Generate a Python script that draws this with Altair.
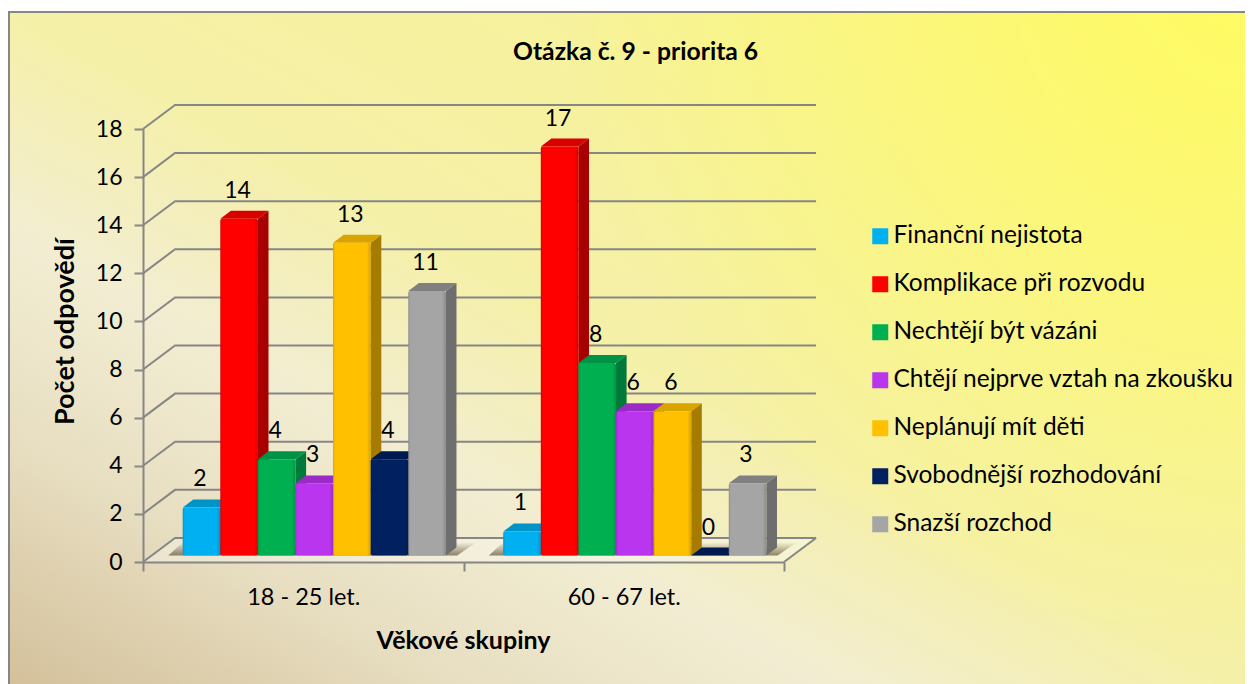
import altair as alt
import pandas as pd

# ---- values ----
groups = ["18 - 25 let.", "60 - 67 let."]
series = ["Finanční nejistota", "Komplikace při rozvodu", "Nechtějí být vázáni",
          "Chtějí nejprve vztah na zkoušku", "\u00a0Neplánují mít děti",
          "\u00a0Svobodnější rozhodování", "\u00a0Snazší rozchod"]
group_1 = [2, 14, 4, 3, 13, 4, 11]
group_2 = [1, 17, 8, 6, 6, 0, 3]
front_colors = ["#00B0F0", "#FF0000", "#00B050", "#B936EE", "#FFC000", "#002060", "#A5A5A5"]
side_colors = ["#0080B0", "#A80000", "#007A38", "#7F25A6", "#A67C00", "#001540", "#6E6E6E"]
top_colors = ["#0093C8", "#D80000", "#009345", "#9A2BC7", "#D9A300", "#001A50", "#808080"]
ticks = list(range(0, 20, 2))

FONT = "Lato"
CW, CH = 1237, 676           # whole canvas
PL, PT = 135, 121            # plot-area origin inside the canvas
W, H = 641, 433              # plot area
DEPTH_X, DEPTH_Y = 0.1, 1.0  # back wall offset (category units, value units)
BAR_START, BAR_W = 0.124, 0.1173
BASE = 0.27
SIDE_X, SIDE_Y = 0.033, 0.33

xs = alt.Scale(domain=[0, 2], nice=False, zero=False)
ys = alt.Scale(domain=[0, 18], nice=False, zero=False)


def X(f, **k):
    return alt.X(f, type="quantitative", scale=xs, **k)


def Y(f, **k):
    return alt.Y(f, type="quantitative", scale=ys, **k)


bars = []
for g, vals in enumerate([group_1, group_2]):
    for s, v in enumerate(vals):
        left = g + BAR_START + s * BAR_W
        bars.append(dict(id=f"{g}-{s}", series=series[s], value=v, left=left, right=left + BAR_W,
                         mid=left + BAR_W / 2 - 0.005, top=v + BASE, base=BASE,
                         side=side_colors[s], cap=top_colors[s]))
bars = pd.DataFrame(bars)

side_rows, top_rows = [], []
for r in bars.itertuples():
    side_rows += [dict(id=r.id, c=r.side, x=r.right, y=r.top, y2=r.base),
                  dict(id=r.id, c=r.side, x=r.right + SIDE_X, y=r.top + SIDE_Y, y2=r.base + SIDE_Y)]
    top_rows += [dict(id=r.id, c=r.cap, y=r.top, x=r.left, x2=r.right),
                 dict(id=r.id, c=r.cap, y=r.top + SIDE_Y, x=r.left + SIDE_X, x2=r.right + SIDE_X)]
side_df, top_df = pd.DataFrame(side_rows), pd.DataFrame(top_rows)

grid_rows = []
for t in ticks:
    grid_rows += [dict(t=t, x=0, y=t), dict(t=t, x=DEPTH_X, y=t + DEPTH_Y),
                  dict(t=t, x=2 + DEPTH_X, y=t + DEPTH_Y)]
grid_rows += [dict(t=-1, x=2, y=0), dict(t=-1, x=2 + DEPTH_X, y=DEPTH_Y)]
grid_df = pd.DataFrame(grid_rows)

floor_df = pd.DataFrame([dict(y=0, x=0, x2=2), dict(y=DEPTH_Y, x=DEPTH_X, x2=2 + DEPTH_X)])
shadow_df = pd.DataFrame([
    dict(g=g, y=BASE, x=g + BAR_START - 0.045, x2=g + BAR_START + 7 * BAR_W + 0.035)
    for g in range(2)
] + [
    dict(g=g, y=BASE + 0.55, x=g + BAR_START, x2=g + BAR_START + 7 * BAR_W + 0.095)
    for g in range(2)
])

bg = alt.Chart(pd.DataFrame({"a": [0]})).mark_rect(
    stroke="#868686", strokeWidth=2,
    fill=alt.Gradient(gradient="linear", x1=0, y1=1, x2=1, y2=0, stops=[
        alt.GradientStop(offset=0, color="#D2BE98"),
        alt.GradientStop(offset=0.2, color="#E8DFC2"),
        alt.GradientStop(offset=0.34, color="#F2EDD2"),
        alt.GradientStop(offset=0.5, color="#F5F0A8"),
        alt.GradientStop(offset=1, color="#F8F48C"),
    ])
).encode(x=alt.value(1 - PL), x2=alt.value(CW - PL + 20), y=alt.value(4 - PT), y2=alt.value(CH - PT + 20))

glow = alt.Chart(pd.DataFrame({"a": [0]})).mark_rect(
    fill=alt.Gradient(gradient="radial", x1=1, y1=0.2, r1=0, x2=1, y2=0.2, r2=0.55, stops=[
        alt.GradientStop(offset=0, color="rgba(255,251,95,0.95)"),
        alt.GradientStop(offset=1, color="rgba(255,251,95,0)"),
    ])
).encode(x=alt.value(2 - PL), x2=alt.value(CW - PL), y=alt.value(5 - PT), y2=alt.value(CH - PT))

floor = alt.Chart(floor_df).mark_area(orient="horizontal", color="#FFFFFF", opacity=0.3).encode(
    y=Y("y"), x=X("x"), x2="x2")

label_expr = ("datum.value==0.5?'%s':datum.value==1.5?'%s':''" % tuple(groups))
axes = alt.Chart(floor_df).mark_point(opacity=0).encode(
    x=alt.X("x:Q", scale=xs, title="Věkové skupiny", axis=alt.Axis(
        values=[0, 0.5, 1, 1.5, 2], labelExpr=label_expr,
        tickOpacity={"condition": {"test": "datum.value % 1 != 0", "value": 0}, "value": 1},
        domainColor="#868686", domainWidth=2, tickColor="#868686", tickWidth=2, tickSize=9,
        grid=False, labelFont=FONT, labelFontSize=23.5, labelColor="#000000", labelPadding=14,
        labelAngle=0, labelOverlap=False, labelFlush=False,
        titleFont=FONT, titleFontSize=25, titleFontWeight="bold", titleColor="#000000",
        titleX=320, titleY=66, titleAlign="center", zindex=1)),
    y=alt.Y("y:Q", scale=ys, title="Počet odpovědí", axis=alt.Axis(
        values=ticks,
        domainColor="#868686", domainWidth=2, tickColor="#868686", tickWidth=2, tickSize=9,
        grid=False, labelFont=FONT, labelFontSize=23, labelColor="#000000", labelPadding=12,
        titleFont=FONT, titleFontSize=27, titleFontWeight="bold", titleColor="#000000",
        titleX=-64, titleY=202, titleAngle=270, titleAlign="center", zindex=1)),
)

grid = alt.Chart(grid_df).mark_line(color="#868686", strokeWidth=2).encode(
    x=X("x"), y=Y("y"), detail="t:N", order="x:Q")

shadow = alt.Chart(shadow_df).mark_area(
    orient="horizontal",
    fill=alt.Gradient(gradient="linear", x1=0, y1=1, x2=0, y2=0, stops=[
        alt.GradientStop(offset=0, color="rgba(70,55,25,0.6)"),
        alt.GradientStop(offset=1, color="rgba(70,55,25,0)"),
    ])
).encode(y=Y("y"), x=X("x"), x2="x2", detail="g:N")

sides = alt.Chart(side_df).mark_area(line=False).encode(
    x=X("x"), y=Y("y"), y2="y2", detail="id:N", color=alt.Color("c:N", scale=None))
tops = alt.Chart(top_df).mark_area(orient="horizontal").encode(
    y=Y("y"), x=X("x"), x2="x2", detail="id:N", color=alt.Color("c:N", scale=None))

front = alt.Chart(bars).mark_rect(cornerRadius=2).encode(
    x=X("left"), x2="right", y=Y("top"), y2="base",
    color=alt.Color("series:N", sort=series, scale=alt.Scale(domain=series, range=front_colors),
                    legend=alt.Legend(
                        orient="none", legendX=860 - PL, legendY=216 - PT, title=None, symbolType="square",
                        symbolSize=256, symbolStrokeWidth=0, symbolOpacity=1, labelFont=FONT,
                        labelFontSize=24.5, labelColor="#000000", labelOffset=1, rowPadding=23,
                        labelLimit=400, padding=0)))

bevel = alt.Chart(bars[bars.value > 0]).mark_rect(
    cornerRadius=2,
    fill=alt.Gradient(gradient="linear", x1=0, y1=0, x2=1, y2=0, stops=[
        alt.GradientStop(offset=0, color="rgba(0,0,0,0.16)"),
        alt.GradientStop(offset=0.05, color="rgba(0,0,0,0)"),
        alt.GradientStop(offset=0.9, color="rgba(0,0,0,0)"),
        alt.GradientStop(offset=1, color="rgba(0,0,0,0.16)"),
    ])
).encode(x=X("left"), x2="right", y=Y("top"), y2="base")

labels = alt.Chart(bars).mark_text(
    font=FONT, fontSize=23, color="#000000", baseline="bottom", dy=-16
).encode(x=X("mid"), y=Y("top"), text="value:Q")

chart = alt.layer(axes, bg, glow, floor, grid, shadow, sides, tops, front, bevel, labels).properties(
    width=W, height=H,
    padding=alt.Padding(left=PL, top=PT, right=CW - PL - W, bottom=CH - PT - H),
    autosize=alt.AutoSizeParams(type="none"),
    title=alt.TitleParams("Otázka č. 9 - priorita 6", anchor="start", frame="group", font=FONT,
                          fontSize=24.7, fontWeight="bold", color="#000000", dx=370, dy=58),
).configure_view(stroke=None).configure(background="#FFFFFF")

chart.save("out.html", embed_options={"renderer": "svg", "actions": False})
